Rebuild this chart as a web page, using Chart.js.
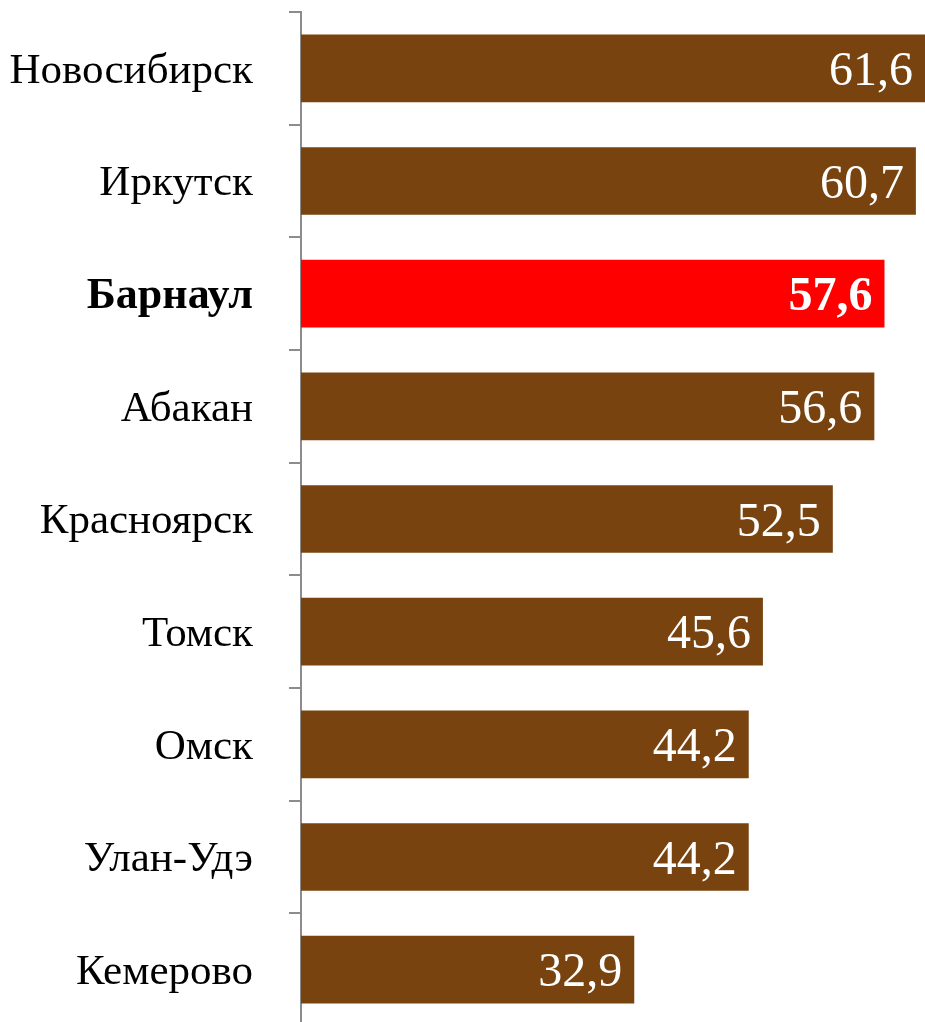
<!DOCTYPE html>
<html>
<head>
<meta charset="utf-8">
<script src="https://cdn.jsdelivr.net/npm/chart.js@4.4.1/dist/chart.umd.min.js"></script>
<style>
  html, body { margin: 0; padding: 0; background: #fff; overflow: hidden; }
  #wrap { width: 925px; height: 1026px; }
</style>
</head>
<body>
<div id="wrap"><canvas id="bars-chart"></canvas></div>
<script>
var cities = ['Новосибирск', 'Иркутск', 'Барнаул', 'Абакан', 'Красноярск', 'Томск', 'Омск', 'Улан-Удэ', 'Кемерово'];
var values = [61.6, 60.7, 57.6, 56.6, 52.5, 45.6, 44.2, 44.2, 32.9];
var highlight = 'Барнаул';

var brown = '#78430f';
var red = '#ff0000';
var serif = '"Liberation Serif", "Times New Roman", serif';

// подписи значений внутри столбцов
var valueLabels = {
    id: 'valueLabels',
    afterDatasetsDraw: function(chart){
        var ctx = chart.ctx;
        var meta = chart.getDatasetMeta(0);
        ctx.save();
        ctx.fillStyle = '#fff';
        ctx.textAlign = 'right';
        ctx.textBaseline = 'middle';
        meta.data.forEach(function(bar, i){
            var bold = cities[i] === highlight;
            ctx.font = (bold ? 'bold ' : '') + '48px ' + serif;
            ctx.fillText(values[i].toFixed(1).replace('.', ','), bar.x - 12, bar.y + 4);
        });
        ctx.restore();
    }
};

var ctx = document.getElementById('bars-chart').getContext('2d');
new Chart(ctx, {
    type: 'bar',
    data: {
        labels: cities,
        datasets: [{
            data: values,
            backgroundColor: cities.map(function(c){ return c === highlight ? red : brown; }),
            borderWidth: 0,
            categoryPercentage: 1,
            barPercentage: 0.6
        }]
    },
    options: {
        indexAxis: 'y',
        responsive: true,
        maintainAspectRatio: false,
        animation: false,
        layout: { padding: { top: 12, right: 0, bottom: 0, left: 0 } },
        plugins: {
            legend: { display: false },
            tooltip: { enabled: false }
        },
        scales: {
            x: {
                display: false,
                min: 0,
                max: 61.6
            },
            y: {
                afterFit: function(scale){
                    scale.width = 301;
                    scale.paddingTop = 0;
                    scale.paddingBottom = 0;
                },
                border: { color: '#8c8c8c', width: 2 },
                grid: {
                    offset: true,
                    drawOnChartArea: false,
                    drawTicks: true,
                    tickLength: 12,
                    color: '#8c8c8c',
                    lineWidth: 2
                },
                ticks: {
                    padding: 36,
                    labelOffset: 3,
                    color: '#000',
                    font: function(c){
                        var bold = cities[c.index] === highlight;
                        return {
                            family: serif,
                            size: bold ? 44 : 43,
                            weight: bold ? 'bold' : 'normal'
                        };
                    }
                }
            }
        }
    },
    plugins: [valueLabels]
});
</script>
</body>
</html>
